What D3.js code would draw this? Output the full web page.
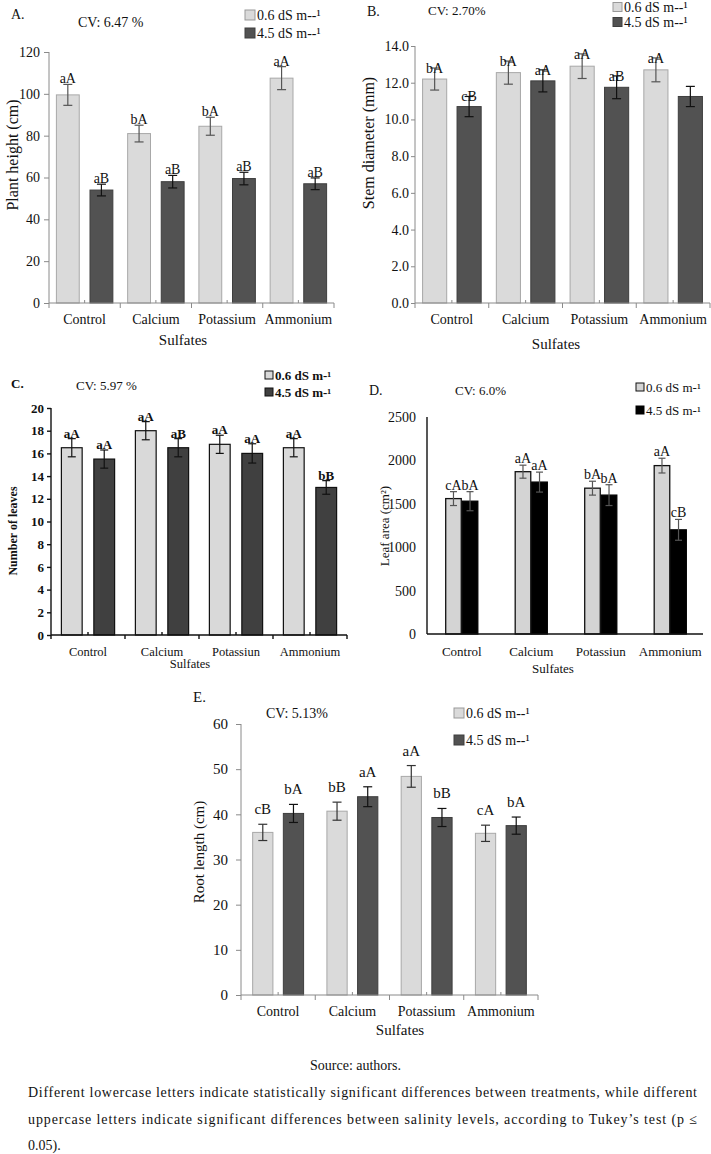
<!DOCTYPE html>
<html>
<head>
<meta charset="utf-8">
<script src="https://cdn.jsdelivr.net/npm/d3@7/dist/d3.min.js"></script>
<style>
  body { margin: 0; background: #fff; }
  svg text { font-family: "Liberation Serif", "Times New Roman", serif; fill: #111; }
</style>
</head>
<body>
<svg id="fig" width="711" height="1154"></svg>
<script>
// categories and legend labels
const sulfates = ["Control", "Calcium", "Potassium", "Ammonium"];
const sulfatesCD = ["Control", "Calcium", "Potassiun", "Ammonium"];
const levels = ["0.6 dS m--\u00b9", "4.5 dS m--\u00b9"];
const levelsCD = ["0.6 dS m-\u00b9", "4.5 dS m-\u00b9"];

// A. plant height (cm)
const heightLow = [99.5, 81, 84.5, 107.5];
const heightHigh = [54, 58, 59.5, 57];
const heightErrLow = [5, 4, 4.3, 5.5];
const heightErrHigh = [2.8, 3, 3, 2.8];
const heightLetLow = ["aA", "bA", "bA", "aA"];
const heightLetHigh = ["aB", "aB", "aB", "aB"];

// B. stem diameter (mm)
const stemLow = [12.2, 12.55, 12.9, 12.7];
const stemHigh = [10.7, 12.1, 11.75, 11.25];
const stemErrLow = [0.6, 0.63, 0.67, 0.65];
const stemErrHigh = [0.55, 0.6, 0.62, 0.55];
const stemLetLow = ["bA", "bA", "aA", "aA"];
const stemLetHigh = ["cB", "aA", "aB", ""];

// C. number of leaves
const leavesLow = [16.5, 18, 16.8, 16.5];
const leavesHigh = [15.5, 16.5, 16, 13];
const leavesErrLow = [0.8, 0.8, 0.8, 0.8];
const leavesErrHigh = [0.8, 0.8, 0.85, 0.6];
const leavesLetLow = ["aA", "aA", "aA", "aA"];
const leavesLetHigh = ["aA", "aB", "aA", "bB"];

// D. leaf area (cm2)
const areaLow = [1560, 1870, 1680, 1940];
const areaHigh = [1530, 1750, 1600, 1200];
const areaErrLow = [80, 75, 80, 85];
const areaErrHigh = [110, 115, 120, 120];
const areaLetLow = ["cA", "aA", "bA", "aA"];
const areaLetHigh = ["bA", "aA", "bA", "cB"];

// E. root length (cm)
const rootLow = [36, 40.7, 48.4, 35.8];
const rootHigh = [40.2, 43.9, 39.3, 37.5];
const rootErrLow = [1.8, 2, 2.4, 1.8];
const rootErrHigh = [2, 2.2, 2, 1.9];
const rootLetLow = ["cB", "bB", "aA", "cA"];
const rootLetHigh = ["bA", "aA", "bB", "bA"];

const svg = d3.select("#fig");

function panel(c){
	var g = svg.append("g");
	var bw = c.bold ? "bold" : "normal";

	var x = d3.scaleBand().domain(c.cats).range([c.x0, c.x1]);
	var xs = d3.scaleBand().domain([0, 1]).range([0, x.bandwidth()])
		.paddingInner(c.pi).paddingOuter(c.po);
	var y = d3.scaleLinear().domain([0, c.max]).range([c.y0, c.yTop]);

	var rows = c.cats.map(function(cat, i){
		return {cat: cat, vals: [
			{s: 0, v: c.low[i], e: c.errLow[i], t: c.letLow[i]},
			{s: 1, v: c.high[i], e: c.errHigh[i], t: c.letHigh[i]}
		]};
	});

	// y axis
	var yAxis = d3.axisLeft(y)
		.tickValues(d3.range(0, c.max + c.step / 2, c.step))
		.tickFormat(d3.format(c.fmt))
		.tickSize(c.tickSize).tickPadding(c.tickPad);
	var ya = g.append("g").attr("transform", "translate(" + c.x0 + ",0)").call(yAxis);
	ya.select(".domain").attr("stroke", c.axisColor).attr("stroke-width", c.axisWidth)
		.attr("d", "M0," + y(0) + "V" + y(c.max));
	ya.selectAll(".tick line").attr("stroke", c.axisColor).attr("stroke-width", c.axisWidth);
	ya.selectAll(".tick text").attr("font-size", c.tickFont).attr("fill", "#111")
		.attr("font-family", "Liberation Serif, serif").attr("font-weight", bw);

	// bars
	var grp = g.append("g").selectAll("g").data(rows).join("g")
		.attr("transform", function(d){ return "translate(" + x(d.cat) + ",0)"; });

	grp.selectAll("rect").data(function(d){ return d.vals; }).join("rect")
		.attr("x", function(d){ return xs(d.s); })
		.attr("width", xs.bandwidth())
		.attr("y", function(d){ return y(d.v); })
		.attr("height", function(d){ return y(0) - y(d.v); })
		.attr("fill", function(d){ return c.fills[d.s]; })
		.attr("stroke", function(d){ return c.strokes[d.s]; })
		.attr("stroke-width", c.barStroke);

	// error bars
	var eb = grp.selectAll("g.err").data(function(d){ return d.vals; }).join("g")
		.attr("class", "err")
		.attr("stroke", function(d){ return c.errColors[d.s]; })
		.attr("stroke-width", 1.2);
	eb.append("line")
		.attr("x1", function(d){ return xs(d.s) + xs.bandwidth() / 2; })
		.attr("x2", function(d){ return xs(d.s) + xs.bandwidth() / 2; })
		.attr("y1", function(d){ return y(d.v - d.e); })
		.attr("y2", function(d){ return y(d.v + d.e); });
	[-1, 1].forEach(function(sgn){
		eb.append("line")
			.attr("x1", function(d){ return xs(d.s) + xs.bandwidth() / 2 - c.cap; })
			.attr("x2", function(d){ return xs(d.s) + xs.bandwidth() / 2 + c.cap; })
			.attr("y1", function(d){ return y(d.v + sgn * d.e); })
			.attr("y2", function(d){ return y(d.v + sgn * d.e); });
	});

	// significance letters
	grp.selectAll("text.let").data(function(d){ return d.vals; }).join("text")
		.attr("class", "let")
		.attr("x", function(d){ return xs(d.s) + xs.bandwidth() / 2; })
		.attr("y", function(d){ return y(d.v + d.e) + c.letOff; })
		.attr("text-anchor", "middle")
		.attr("font-size", c.letFont)
		.attr("font-weight", bw)
		.text(function(d){ return d.t; });

	// x axis line + category separators
	g.append("line").attr("x1", c.x0).attr("x2", c.xEnd || c.x1)
		.attr("y1", y(0)).attr("y2", y(0))
		.attr("stroke", c.axisColor).attr("stroke-width", c.axisWidth);
	if(c.sepTicks){
		g.append("g").selectAll("line").data(d3.range(c.cats.length + 1)).join("line")
			.attr("x1", function(i){ return x.range()[0] + i * x.step(); })
			.attr("x2", function(i){ return x.range()[0] + i * x.step(); })
			.attr("y1", y(0)).attr("y2", y(0) + c.sepTicks)
			.attr("stroke", c.axisColor).attr("stroke-width", c.axisWidth);
		// small marks between the two bars of each group
		g.append("g").selectAll("line").data(c.cats).join("line")
			.attr("x1", function(d){ return x(d) + x.bandwidth() / 2; })
			.attr("x2", function(d){ return x(d) + x.bandwidth() / 2; })
			.attr("y1", y(0)).attr("y2", y(0) - 3)
			.attr("stroke", c.axisColor).attr("stroke-width", c.axisWidth);
	}
	g.append("g").selectAll("text").data(c.cats).join("text")
		.attr("x", function(d){ return x(d) + x.bandwidth() / 2; })
		.attr("y", c.catY)
		.attr("text-anchor", "middle")
		.attr("font-size", c.catFont)
		.text(function(d){ return d; });

	g.append("text").attr("x", c.sulfX).attr("y", c.sulfY).attr("text-anchor", "middle")
		.attr("font-size", c.sulfFont).text("Sulfates");

	// y label
	g.append("text")
		.attr("transform", "translate(" + c.ylabX + "," + c.ylabY + ") rotate(-90)")
		.attr("text-anchor", "middle")
		.attr("font-size", c.ylabFont)
		.attr("font-weight", bw)
		.attr("dy", "0.35em")
		.text(c.ylab);

	// panel letter and CV
	g.append("text").attr("x", c.tagX).attr("y", c.tagY).attr("font-size", c.tagFont)
		.attr("font-weight", bw).text(c.tag);
	g.append("text").attr("x", c.cvX).attr("y", c.cvY).attr("font-size", c.cvFont)
		.attr("font-family", c.cvSans ? "Liberation Sans, Arial, sans-serif" : null)
		.text(c.cv);

	// legend
	var lg = g.append("g").selectAll("g").data(c.legend).join("g")
		.attr("transform", function(d, i){ return "translate(" + c.legX + "," + c.legY[i] + ")"; });
	lg.append("rect")
		.attr("x", 0).attr("y", -c.legBox / 2)
		.attr("width", c.legBox).attr("height", c.legBox)
		.attr("fill", function(d, i){ return c.fills[i]; })
		.attr("stroke", function(d, i){ return c.legStrokes[i]; })
		.attr("stroke-width", 1);
	lg.append("text")
		.attr("x", c.legBox + 2).attr("dy", "0.35em")
		.attr("font-size", c.legFont)
		.attr("font-weight", bw)
		.text(function(d){ return d; });
}

// A
panel({
	cats: sulfates, low: heightLow, high: heightHigh, errLow: heightErrLow, errHigh: heightErrHigh,
	letLow: heightLetLow, letHigh: heightLetHigh,
	x0: 49, x1: 334, y0: 303, yTop: 52, max: 120, step: 20, fmt: "d",
	pi: 0.32, po: 0.22,
	fills: ["#dadada", "#525252"], strokes: ["#a8a8a8", "#3e3e3e"], barStroke: 1,
	errColors: ["#555", "#111"], cap: 4.5,
	axisColor: "#8a8a8a", axisWidth: 1, tickSize: 5, tickPad: 4, tickFont: 14,
	letOff: -1, letFont: 14, sepTicks: 5,
	catY: 324, catFont: 14, sulfX: 183, sulfY: 345, sulfFont: 15,
	ylab: "Plant height (cm)", ylabX: 12, ylabY: 155, ylabFont: 16,
	tag: "A.", tagX: 11, tagY: 19, tagFont: 14,
	cv: "CV: 6.47 %", cvX: 78, cvY: 27, cvFont: 14,
	legend: levels, legX: 245, legY: [15, 33], legBox: 10, legFont: 14, legStrokes: ["#999", "#3e3e3e"]
});

// B
panel({
	cats: sulfates, low: stemLow, high: stemHigh, errLow: stemErrLow, errHigh: stemErrHigh,
	letLow: stemLetLow, letHigh: stemLetHigh,
	x0: 415, x1: 710, y0: 303, yTop: 46, max: 14, step: 2, fmt: ".1f",
	pi: 0.3, po: 0.22,
	fills: ["#dadada", "#525252"], strokes: ["#a8a8a8", "#3e3e3e"], barStroke: 1,
	errColors: ["#555", "#111"], cap: 4.5,
	axisColor: "#8a8a8a", axisWidth: 1, tickSize: 4, tickPad: 2, tickFont: 14,
	letOff: 5, letFont: 14, sepTicks: 5,
	catY: 324, catFont: 14, sulfX: 556, sulfY: 349, sulfFont: 15,
	ylab: "Stem diameter (mm)", ylabX: 368, ylabY: 143, ylabFont: 16,
	tag: "B.", tagX: 367, tagY: 16, tagFont: 14,
	cv: "CV: 2.70%", cvX: 428, cvY: 15, cvFont: 13, cvSans: true,
	legend: levels, legX: 613, legY: [7, 22], legBox: 9, legFont: 14, legStrokes: ["#999", "#3e3e3e"]
});

// C
panel({
	cats: sulfatesCD, low: leavesLow, high: leavesHigh, errLow: leavesErrLow, errHigh: leavesErrHigh,
	letLow: leavesLetLow, letHigh: leavesLetHigh, bold: true,
	x0: 51, x1: 347, y0: 635, yTop: 408, max: 20, step: 2, fmt: "d",
	pi: 0.36, po: 0.32,
	fills: ["#d9d9d9", "#404040"], strokes: ["#111", "#111"], barStroke: 1.2,
	errColors: ["#111", "#111"], cap: 4,
	axisColor: "#111", axisWidth: 1.4, tickSize: 4, tickPad: 3, tickFont: 13,
	letOff: -1, letFont: 13, sepTicks: 4,
	catY: 656, catFont: 12.5, sulfX: 190, sulfY: 668, sulfFont: 12.5,
	ylab: "Number of leaves", ylabX: 13, ylabY: 531, ylabFont: 12,
	tag: "C.", tagX: 11, tagY: 388, tagFont: 13,
	cv: "CV:  5.97 %", cvX: 76, cvY: 390, cvFont: 13,
	legend: levelsCD, legX: 265, legY: [375, 392], legBox: 8, legFont: 13, legStrokes: ["#111", "#111"]
});

// D
panel({
	cats: sulfatesCD, low: areaLow, high: areaHigh, errLow: areaErrLow, errHigh: areaErrHigh,
	letLow: areaLetLow, letHigh: areaLetHigh,
	x0: 427, x1: 705, xEnd: 703, y0: 634, yTop: 417, max: 2500, step: 500, fmt: "d",
	pi: 0.06, po: 1.13,
	fills: ["#d4d4d4", "#000000"], strokes: ["#111", "#000"], barStroke: 1.3,
	errColors: ["#555", "#555"], cap: 3.5,
	axisColor: "#111", axisWidth: 1.4, tickSize: 0, tickPad: 11, tickFont: 14,
	letOff: -2, letFont: 14, sepTicks: 0,
	catY: 656, catFont: 13, sulfX: 553, sulfY: 673, sulfFont: 13,
	ylab: "Leaf area (cm\u00b2)", ylabX: 384, ylabY: 526, ylabFont: 13,
	tag: "D.", tagX: 369, tagY: 395, tagFont: 14,
	cv: "CV:  6.0%", cvX: 455, cvY: 395, cvFont: 13,
	legend: levelsCD, legX: 636, legY: [387, 410], legBox: 8, legFont: 13, legStrokes: ["#111", "#000"]
});

// E
panel({
	cats: sulfates, low: rootLow, high: rootHigh, errLow: rootErrLow, errHigh: rootErrHigh,
	letLow: rootLetLow, letHigh: rootLetHigh,
	x0: 241, x1: 538, y0: 995, yTop: 724, max: 60, step: 10, fmt: "d",
	pi: 0.34, po: 0.38,
	fills: ["#dadada", "#525252"], strokes: ["#a8a8a8", "#3e3e3e"], barStroke: 1,
	errColors: ["#333", "#111"], cap: 4.5,
	axisColor: "#8a8a8a", axisWidth: 1, tickSize: 5, tickPad: 8, tickFont: 15,
	letOff: -10, letFont: 15, sepTicks: 5,
	catY: 1016, catFont: 14, sulfX: 400, sulfY: 1035, sulfFont: 15,
	ylab: "Root length (cm)", ylabX: 199, ylabY: 852, ylabFont: 15,
	tag: "E.", tagX: 193, tagY: 702, tagFont: 15,
	cv: "CV: 5.13%", cvX: 266, cvY: 718, cvFont: 14,
	legend: levels, legX: 454, legY: [713, 740], legBox: 10, legFont: 14, legStrokes: ["#999", "#3e3e3e"]
});

// caption
const capLines = [
	"Different lowercase letters indicate statistically significant differences between treatments, while different",
	"uppercase letters indicate significant differences between salinity levels, according to Tukey\u2019s test (p \u2264",
	"0.05)."
];
svg.append("text").attr("x", 355.5).attr("y", 1070).attr("text-anchor", "middle")
	.attr("font-size", 14).text("Source: authors.");
svg.append("g").selectAll("text").data(capLines).join("text")
	.attr("x", 28)
	.attr("y", function(d, i){ return 1097 + i * 26.5; })
	.attr("font-size", 14)
	.attr("textLength", function(d, i){ return i < 2 ? 669 : null; })
	.attr("lengthAdjust", "spacing")
	.text(function(d){ return d; });
</script>
</body>
</html>
